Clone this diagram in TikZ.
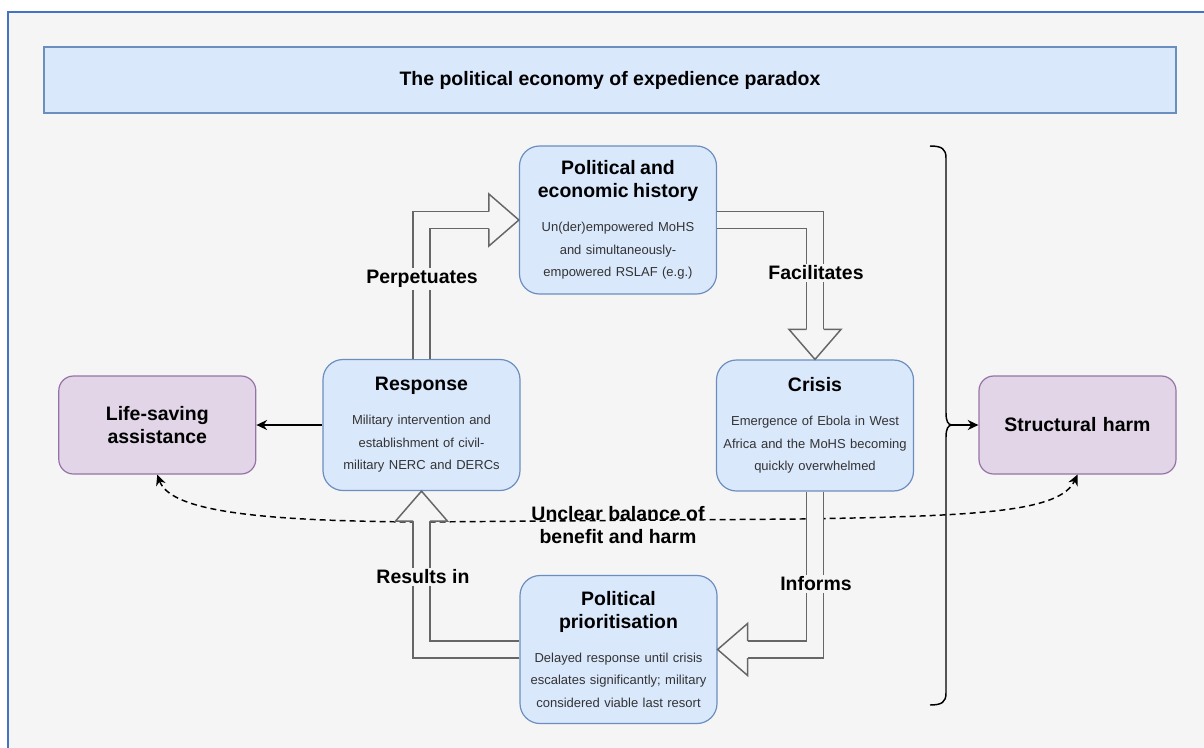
\documentclass[tikz,border=0pt]{standalone}
\usepackage{fontspec}
\setmainfont{Liberation Sans}
\usepackage{xcolor}
\usetikzlibrary{positioning,arrows.meta}

\definecolor{bgcol}{HTML}{F5F5F5}
\definecolor{framecol}{HTML}{4472C4}
\definecolor{bluefill}{HTML}{DAE8FC}
\definecolor{bluedraw}{HTML}{6C8EBF}
\definecolor{purpfill}{HTML}{E1D5E7}
\definecolor{purpdraw}{HTML}{9673A6}
\definecolor{arrgray}{HTML}{666666}
\definecolor{txtgray}{HTML}{333333}

\setlength{\parindent}{0pt}
\newcommand{\ttlfont}{\fontsize{14.6pt}{17.25pt}\selectfont\bfseries}
\newcommand{\bdyfont}{\fontsize{9.75pt}{16.9pt}\selectfont\leavevmode\color{txtgray}}

\tikzset{
	stage/.style={rectangle, rounded corners=15pt, draw=bluedraw, fill=bluefill,
		line width=0.9pt, minimum width=147.75pt, text width=142pt, align=center, inner sep=0pt},
	harm/.style={rectangle, rounded corners=11pt, draw=purpdraw, fill=purpfill,
		line width=0.9pt, minimum width=147.75pt, minimum height=73.5pt, text width=142pt,
		align=center, inner sep=0pt, font=\ttlfont},
	lbl/.style={font=\ttlfont, fill=bgcol, inner sep=1.5pt},
	blockshaft/.style={draw=arrgray, line width=1.1pt, double=bgcol, double distance=11.6pt,
		line join=miter, shorten >=22.5pt},
	blockhead/.style={draw=arrgray, fill=bgcol, line width=1.1pt, line join=miter},
	solidarr/.style={line width=1.1pt, -{Stealth[length=8pt,width=7.5pt]}},
	balance/.style={line width=1.1pt, dash pattern=on 4.5pt off 3pt,
		{Stealth[length=8pt,width=7.5pt]}-{Stealth[length=8pt,width=7.5pt]}}
}

\begin{document}
\begin{tikzpicture}[x=0.75pt,y=0.75pt]
	\useasboundingbox (0,0) rectangle (1204,-747);
	\clip (0,0) rectangle (1204,-747);
	%\draw[help lines] (0,0) grid (1204,-747);
	\draw[framecol, line width=1.5pt, fill=bgcol] (8,-12) rectangle (1230,-770);

	\node[draw=bluedraw, fill=bluefill, line width=0.9pt, minimum width=849pt, minimum height=49.5pt,
		font=\ttlfont] (head) at (610,-80) {The political economy of expedience paradox};

	\node[stage, minimum height=111pt] (hist) at (618,-220)
		{{\ttlfont Political and\\economic history\par}\vspace{8.6pt}%
		{\bdyfont Un(der)empowered MoHS\\and simultaneously-\\empowered RSLAF (e.g.)\par}};
	\node[stage, minimum height=98.25pt] (crisis) at (815,-425.5)
		{{\ttlfont Crisis\par}\vspace{8.6pt}%
		{\bdyfont Emergence of Ebola in West\\Africa and the MoHS becoming\\quickly overwhelmed\par}};
	\node[stage, minimum height=98.25pt] (resp) at (421.5,-425)
		{{\ttlfont Response\par}\vspace{8.6pt}%
		{\bdyfont Military intervention and\\establishment of civil-\\military NERC and DERCs\par}};
	\node[stage, minimum height=111pt] (prio) at (618.5,-649.5)
		{{\ttlfont Political\\prioritisation\par}\vspace{8.6pt}%
		{\bdyfont Delayed response until crisis\\escalates significantly; military\\considered viable last resort\par}};

	\node[harm, left=49.5pt of resp] (lsa) {Life-saving\\assistance};
	\node[harm] (shm) at (1077.5,-425) {Structural harm};

	% benefit / harm
	\draw[balance] (lsa.south) .. controls (170,-510) and (250,-521) .. (420,-522)
		-- (800,-519) .. controls (980,-516) and (1060,-512) .. (shm.south);
	\node[font=\ttlfont, align=center] (bal) at (618,-525) {Unclear balance of\\benefit and harm};

	% the cycle
	\draw[blockshaft] (resp.north) |- (hist.west);
	\draw[blockshaft] (hist.east) -| (crisis.north);
	\draw[blockshaft] (crisis.south) |- (prio.east);
	\draw[blockshaft] (prio.west) -| (resp.south);
	\foreach \n/\r in {hist.west/0, crisis.north/-90, prio.east/180, resp.south/90}
		\draw[blockhead, shift={(\n)}, rotate=\r] (-30,8.5) -- (-30,26) -- (0,0) -- (-30,-26) -- (-30,-8.5);

	\node[lbl] (perp) at (422,-279) {Perpetuates};
	\node[lbl] (facil) at (816,-273) {Facilitates};
	\node[lbl] (inf) at (816,-584) {Informs};
	\node[lbl] (res) at (423,-577) {Results in};

	\draw[solidarr] (resp.west) -- (lsa.east);

	% brace
	\draw[line width=1.1pt] (930,-146) .. controls (942,-146) and (946,-149) .. (946,-158)
		-- (946,-413) .. controls (946,-421) and (948,-425) .. (952,-425)
		.. controls (948,-425) and (946,-429) .. (946,-437)
		-- (946,-693) .. controls (946,-702) and (942,-705) .. (930,-705);
	\coordinate (brtip) at (952,-425);
	\draw[solidarr] (brtip) -- (shm.west);
\end{tikzpicture}
\end{document}
